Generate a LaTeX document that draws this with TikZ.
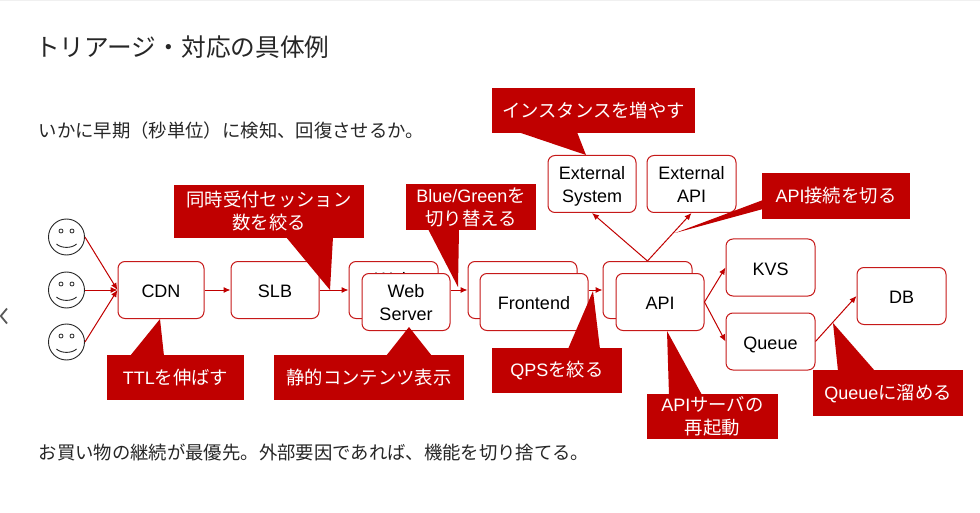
\documentclass[tikz,border=0pt]{standalone}
\usepackage{fontspec}
\setmainfont{Liberation Sans}
\newfontfamily\cjk[Scale=1.02]{Noto Sans CJK JP}
\usepackage{xcolor}
\usetikzlibrary{arrows.meta,calc,positioning}
\definecolor{notered}{HTML}{C00000}
\tikzset{
  srv/.style={draw=notered!90!white,fill=white,rounded corners=7pt,line width=1pt,minimum width=#1,minimum height=57pt,align=center,inner sep=0pt,text depth=0pt,font=\fontsize{18}{23}\selectfont},
  srv/.default=88pt,
  oneline/.style={text height=15.5pt},
  note/.style={fill=notered,text=white,align=center,inner sep=0pt,font=\fontsize{18}{23}\selectfont},
  face/.style={circle,draw=black!85,fill=white,line width=0.9pt,minimum size=36pt,inner sep=0pt},
  link/.style={draw=notered,line width=1pt,-{Latex[length=7pt,width=6pt]}},
  tail/.style={fill=notered},
  head/.style={anchor=west,inner sep=0pt,text=black!85}
}
\begin{document}
\begin{tikzpicture}[x=1pt,y=-1pt]
\useasboundingbox (0,0) rectangle (980,513);
\fill [black!6] (0,0) rectangle (980,1.3);
\node (title) [head,font=\fontsize{24.2}{28}\selectfont\cjk] at (35,47) {トリアージ・対応の具体例};
\node (lead) [head,font=\fontsize{18}{22}\selectfont\cjk] at (38.5,131) {いかに早期（秒単位）に検知、回復させるか。};
\node (foot) [head,font=\fontsize{18}{22}\selectfont\cjk] at (38.5,453) {お買い物の継続が最優先。外部要因であれば、機能を切り捨てる。};
\draw [black!65,line width=1.8pt] (7,308.5) -- (0.8,316) -- (7,323.5);
% users
\foreach \n/\y in {a/237,b/290,c/342}{
  \node (user\n) [face] at (66.5,\y) {};
  \draw [black!85,line width=0.8pt] (61,\y-6) circle (2pt) (72,\y-6) circle (2pt);
  \draw [black!85,line width=0.9pt] (56.5,\y+7) .. controls (61,\y+11.5) and (72,\y+11.5) .. (76.5,\y+7);
}
% servers
\node (cdn) [srv=86pt,oneline] at (161,290) {CDN};
\node (slb) [srv,oneline] at (275,290) {SLB};
\node (webback) [srv=89pt] at (393.5,290) {Web\\Server};
\node (web) [srv] at (406,302) {Web\\Server};
\node (frontback) [srv=109pt] at (522.5,290) {};
\node (front) [srv=108pt,oneline] at (534,302) {Frontend};
\node (apiback) [srv=89pt] at (647.5,290) {};
\node (api) [srv,oneline] at (660,302) {API};
\node (extsys) [srv] at (592,184) {External\\System};
\node (extapi) [srv=89pt] at (691.5,184) {External\\API};
\node (kvs) [srv=89pt,oneline] at (770.5,267.5) {KVS};
\node (queue) [srv=89pt,oneline] at (770.5,341.5) {Queue};
\node (db) [srv=89pt,oneline] at (901.5,296) {DB};
% links
\foreach \n in {a,b,c}{
  \draw [link] (user\n.east) -- (cdn.west);
}
\draw [link] (cdn) -- (slb);
\draw [link] (slb) -- (webback);
\draw [link] (web.east |- webback) -- (frontback.west);
\draw [link] (front.east |- frontback) -- (apiback.west);
\draw [link] (apiback.north) -- (extsys.south);
\draw [link] (apiback.north) -- (extapi.south);
\draw [link] (api.east) -- (kvs.west);
\draw [link] (api.east) -- (queue.west);
\draw [link] (queue.east) -- (db.west);
% notes
\node (ttl) [note,minimum width=137pt,minimum height=45pt] at (175.5,377.5) {TTL{\cjk を伸ばす}};
\fill [tail] (130,356) -- (160,319) -- (164,356) -- cycle;
\node (session) [note,minimum width=190pt,minimum height=53pt] at (269,211.5) {{\cjk 同時受付セッション}\\{\cjk 数を絞る}};
\fill [tail] (286,237) -- (330,290) -- (333,237) -- cycle;
\node (static) [note,minimum width=190pt,minimum height=45pt] at (369,377.5) {{\cjk 静的コンテンツ表示}};
\fill [tail] (386,356) -- (409,327) -- (432,356) -- cycle;
\node (bluegreen) [note,minimum width=130pt,minimum height=46pt] at (471,207) {Blue/Green{\cjk を}\\{\cjk 切り替える}};
\fill [tail] (428,229) -- (458,287) -- (459,229) -- cycle;
\node (qps) [note,minimum width=130pt,minimum height=45pt] at (557,370.5) {QPS{\cjk を絞る}};
\fill [tail] (568,349) -- (593,291) -- (600,349) -- cycle;
\node (scale) [note,minimum width=203pt,minimum height=45pt] at (593.5,110.5) {{\cjk インスタンスを増やす}};
\fill [tail] (518,132) -- (586,155) -- (577,132) -- cycle;
\node (cut) [note,minimum width=148pt,minimum height=46pt] at (836,196) {API{\cjk 接続を切る}};
\fill [tail] (763,200) -- (675,233) -- (763,209) -- cycle;
\node (restart) [note,minimum width=131pt,minimum height=45pt] at (712.5,416.5) {API{\cjk サーバの}\\{\cjk 再起動}};
\fill [tail] (669,395) -- (667,331) -- (702,395) -- cycle;
\node (buffer) [note,minimum width=150pt,minimum height=46pt] at (888,393) {Queue{\cjk に溜める}};
\fill [tail] (838,371) -- (833,323) -- (875,371) -- cycle;
\end{tikzpicture}
\end{document}
